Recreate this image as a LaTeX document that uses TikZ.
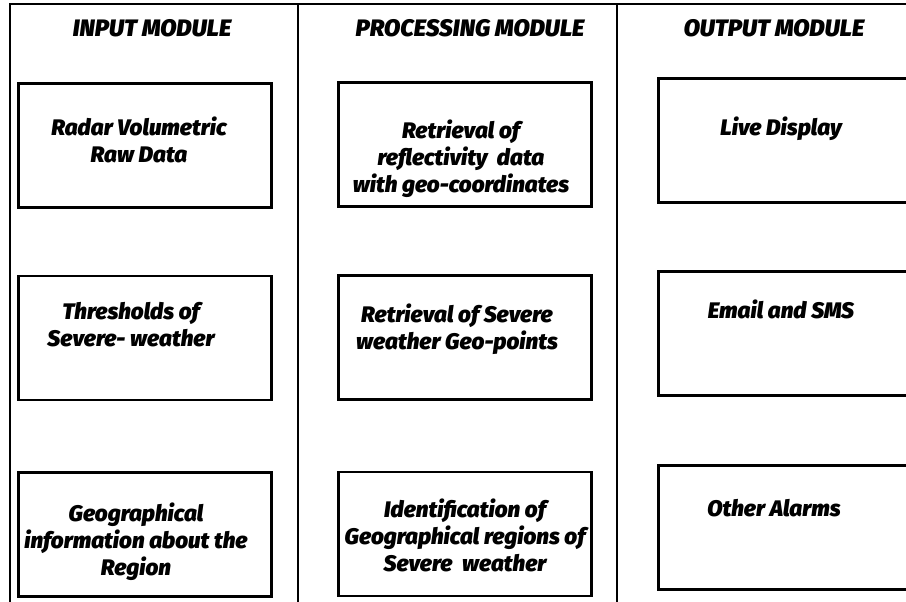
\documentclass[tikz,border=0pt]{standalone}
\usepackage{fontspec}
\setmainfont{Fira Sans}[BoldFont={Fira Sans Black}, BoldItalicFont={Fira Sans Black Italic}]
\usetikzlibrary{positioning}

\begin{document}
\begin{tikzpicture}[
        x=1pt, y=-1pt,
        module_box/.style={
            draw,
            rectangle,
            minimum width=253pt,
            minimum height=124pt,
            line width=2.7pt
        },
        box_text/.style={
            align=center,
            inner sep=0pt,
            font=\fontsize{22.5}{27}\selectfont\bfseries\itshape
        },
        module_head/.style={
            inner sep=0pt,
            font=\fontsize{23.8}{26}\selectfont\bfseries\itshape
        },
        frame_line/.style={
            line width=2pt
        }
    ]
        \useasboundingbox (0,0) rectangle (906,602);
        \clip (0,0) rectangle (906,602);
        % frame and the two column rules
        \draw[frame_line] (10,4) rectangle (940,640);
        \draw[frame_line] (298,4) -- (298,640);
        \draw[frame_line] (617,4) -- (617,640);

        % column heads
        \node[module_head] (head_in) at (152,28) {INPUT MODULE};
        \node[module_head] (head_proc) at (470,28) {PROCESSING MODULE};
        \node[module_head] (head_out) at (774,28) {OUTPUT MODULE};

        % input column
        \node[module_box] (in_radar) at (145,145.5) {};
        \node[box_text, below=34pt of in_radar.north, xshift=-6pt] (in_radar_txt) {Radar Volumetric\\Raw Data};
        \node[module_box] (in_thresh) at (145,338) {};
        \node[box_text, below=27pt of in_thresh.north, xshift=-14pt] (in_thresh_txt) {Thresholds of\\Severe- weather};
        \node[module_box] (in_geo) at (145,534.5) {};
        \node[box_text, below=31pt of in_geo.north, xshift=-9pt] (in_geo_txt) {Geographical\\information about the\\Region};

        % processing column
        \node[module_box] (proc_refl) at (465,144.5) {};
        \node[box_text, below=38pt of proc_refl.north, xshift=-4pt] (proc_refl_txt) {Retrieval of\\reflectivity\ \ data\\with geo-coordinates};
        \node[module_box] (proc_points) at (465,337.5) {};
        \node[box_text, below=29pt of proc_points.north, xshift=-8pt] (proc_points_txt) {Retrieval of Severe\\weather Geo-points};
        \node[module_box] (proc_regions) at (465,534) {};
        \node[box_text, below=28pt of proc_regions.north] (proc_regions_txt) {Identification of\\Geographical regions of\\Severe\ \ weather};

        % output column
        \node[module_box] (out_live) at (785,140.5) {};
        \node[box_text, below=39pt of out_live.north, xshift=-4pt] (out_live_txt) {Live Display};
        \node[module_box] (out_mail) at (785,333.5) {};
        \node[box_text, below=29pt of out_mail.north, xshift=-4pt] (out_mail_txt) {Email and SMS};
        \node[module_box] (out_alarm) at (785,527.5) {};
        \node[box_text, below=35pt of out_alarm.north, xshift=-11pt] (out_alarm_txt) {Other Alarms};
    \end{tikzpicture}
\end{document}
